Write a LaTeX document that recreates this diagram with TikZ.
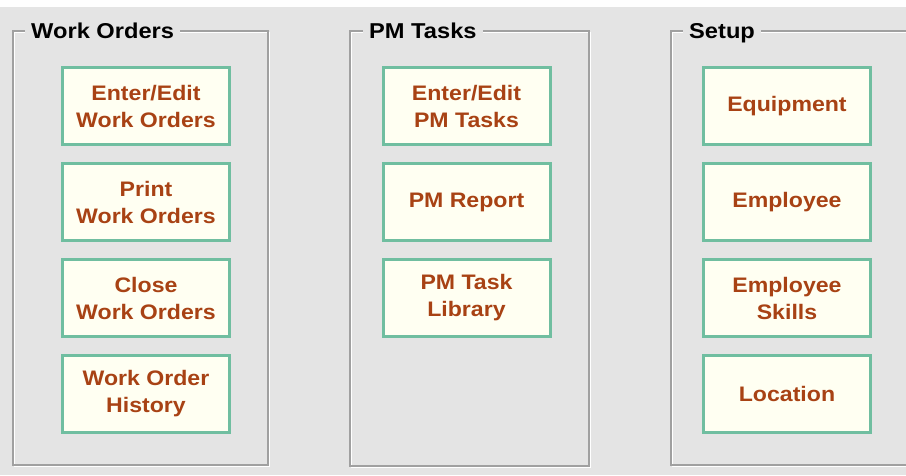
\documentclass[tikz,border=0pt]{standalone}
\usepackage{fontspec}
\setmainfont{Liberation Sans}[FakeStretch=1.1]
\definecolor{panel}{RGB}{228,228,228}
\definecolor{etch}{RGB}{160,160,160}
\definecolor{btnedge}{RGB}{112,190,160}
\definecolor{btnfill}{RGB}{255,255,242}
\definecolor{btntext}{RGB}{168,66,20}

\begin{document}
\begin{tikzpicture}[x=1pt,y=-1pt,
  button/.style={draw=btnedge, line width=3pt, fill=btnfill, text=btntext,
    font=\bfseries\fontsize{21}{27}\selectfont, align=center,
    minimum width=167pt, minimum height=77pt, inner sep=0pt},
  caption/.style={anchor=base west, fill=panel, inner xsep=6pt, inner ysep=2pt,
    font=\bfseries\fontsize{21.5}{26}\selectfont},
  frame/.style={draw=etch, line width=1.5pt}]
  \useasboundingbox (0,0) rectangle (906,475);
  \fill[panel] (0,0) rectangle (906,475);
  \fill[white!96!panel] (0,0) rectangle (906,7);

  \draw[white, line width=1.5pt] (14.5,32.5) rectangle (269.5,466.5);
  \draw[frame] (13,31) rectangle (268,465);
  \draw[white, line width=1.5pt] (351.5,32.5) rectangle (590.5,467.5);
  \draw[frame] (350,31) rectangle (589,466);
  \draw[white, line width=1.5pt] (672.5,32.5) rectangle (920,466.5);
  \draw[frame] (671,31) rectangle (920,465);

  \node[caption] (wocap) at (25,38) {Work Orders};
  \node[caption] (pmcap) at (363,38) {PM Tasks};
  \node[caption] (setupcap) at (683,38) {Setup};

  \node[button] (woedit) at (146,106) {Enter/Edit\\Work Orders};
  \node[button] (woprint) at (146,202) {Print\\Work Orders};
  \node[button] (woclose) at (146,298) {Close\\Work Orders};
  \node[button] (wohist) at (146,394) {Work Order\\History};

  \node[button] (pmedit) at (466.5,106) {Enter/Edit\\PM Tasks};
  \node[button] (pmreport) at (466.5,202) {PM Report};
  \node[button] (pmlib) at (466.5,298) {PM Task\\Library};

  \node[button] (equip) at (787,106) {Equipment};
  \node[button] (employee) at (787,202) {Employee};
  \node[button] (skills) at (787,298) {Employee\\Skills};
  \node[button] (location) at (787,394) {Location};
\end{tikzpicture}
\end{document}
